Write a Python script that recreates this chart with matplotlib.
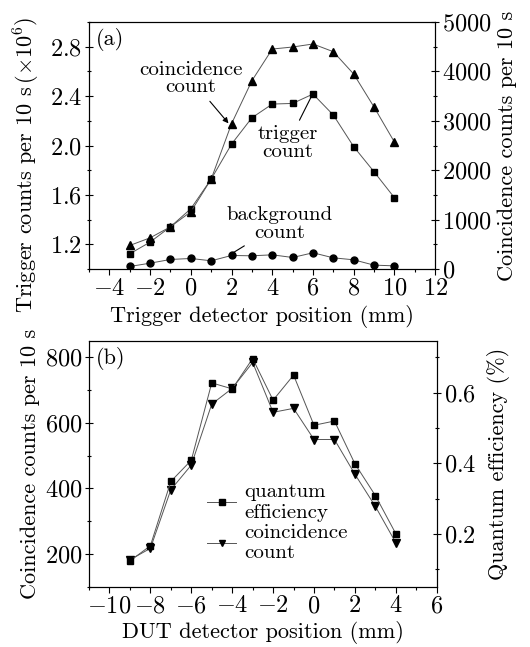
import matplotlib
matplotlib.use('Agg')
import matplotlib.pyplot as plt
from matplotlib.ticker import MultipleLocator

plt.rcParams['font.family'] = ['cmr10', 'DejaVu Serif']
plt.rcParams['mathtext.fontset'] = 'cm'
plt.rcParams['axes.formatter.use_mathtext'] = True
plt.rcParams['axes.unicode_minus'] = True

# (a) trigger detector scan
pos_a = [-3, -2, -1, 0, 1, 2, 3, 4, 5, 6, 7, 8, 9, 10]
trigger = [1.124, 1.219, 1.343, 1.489, 1.729, 2.012, 2.225, 2.336, 2.341, 2.417,
           2.247, 1.991, 1.788, 1.578]
coinc_a = [479, 634, 857, 1161, 1822, 2942, 3812, 4453, 4494, 4555, 4399, 3947,
           3279, 2571]
background = [54, 121, 196, 216, 169, 277, 270, 290, 236, 331, 229, 189, 81, 67]

# (b) DUT detector scan
pos_b = [-9, -8, -7, -6, -5, -4, -3, -2, -1, 0, 1, 2, 3, 4]
qe = [0.124, 0.167, 0.349, 0.409, 0.628, 0.611, 0.697, 0.579, 0.650, 0.508,
      0.520, 0.399, 0.309, 0.201]
coinc_b = [182, 217, 396, 471, 657, 705, 784, 632, 644, 549, 549, 443, 345, 234]

FS = 15      # annotation / legend text
TS = 17.5    # tick labels
LS = 16      # axis labels
lc = '#555555'

fig = plt.figure(figsize=(5.3, 6.47), dpi=100)


def style(ax, twin):
    ax.tick_params(axis='x', which='major', direction='out', length=4, width=0.8,
                   labelsize=TS, pad=2)
    ax.tick_params(axis='x', which='minor', direction='out', length=2.5, width=0.8)
    ax.tick_params(axis='y', which='major', direction='inout', length=6, width=0.8,
                   labelsize=TS, pad=2)
    ax.tick_params(axis='y', which='minor', direction='inout', length=3.5, width=0.8)
    twin.tick_params(axis='y', which='major', direction='inout', length=6, width=0.8,
                     labelsize=TS, pad=2)
    twin.tick_params(axis='y', which='minor', direction='inout', length=3.5, width=0.8)


# ---- panel (a)
ax1 = fig.add_axes([0.168, 0.584, 0.653, 0.382])
ax1r = ax1.twinx()
ax1.plot(pos_a, trigger, '-s', color=lc, lw=0.7, ms=5, mfc='k', mec='k')
ax1r.plot(pos_a, coinc_a, '-^', color=lc, lw=0.7, ms=6, mfc='k', mec='k')
ax1r.plot(pos_a, background, '-o', color=lc, lw=0.7, ms=5, mfc='k', mec='k')
ax1.set_xlim(-5, 12)
ax1.set_ylim(1.0, 3.0)
ax1r.set_ylim(0, 5000)
ax1.xaxis.set_major_locator(MultipleLocator(2))
ax1.xaxis.set_minor_locator(MultipleLocator(1))
ax1.set_yticks([1.2, 1.6, 2.0, 2.4, 2.8])
ax1.yaxis.set_minor_locator(MultipleLocator(0.2))
ax1r.yaxis.set_major_locator(MultipleLocator(1000))
ax1r.yaxis.set_minor_locator(MultipleLocator(500))
style(ax1, ax1r)
ax1.set_xlabel('Trigger detector position (mm)', fontsize=LS, labelpad=4)
ax1.set_ylabel(r'Trigger counts per 10 s$\,(\times10^6)$', fontsize=LS)
ax1.yaxis.set_label_coords(-0.135, 0.42)
ax1r.set_ylabel('Coincidence counts per 10 s', fontsize=LS, labelpad=4)
ax1.text(0.02, 0.975, '(a)', transform=ax1.transAxes, fontsize=16, va='top', ha='left')

ax1.annotate('coincidence\ncount', xy=(1.85, 2.18), xytext=(0.0, 2.54),
             fontsize=FS, ha='center', va='center', linespacing=0.95,
             arrowprops=dict(arrowstyle='-|>', color='k', lw=0.8,
                             mutation_scale=8, shrinkA=2, shrinkB=0))
ax1.annotate('trigger\ncount', xy=(5.9, 2.39), xytext=(4.77, 2.02),
             fontsize=FS, ha='center', va='center', linespacing=0.95,
             arrowprops=dict(arrowstyle='-', color='k', lw=0.8, shrinkA=2, shrinkB=0))
ax1.annotate('background\ncount', xy=(2.05, 1.13), xytext=(4.37, 1.365),
             fontsize=FS, ha='center', va='center', linespacing=0.95,
             arrowprops=dict(arrowstyle='-', color='k', lw=0.8, shrinkA=2, shrinkB=0))

# ---- panel (b)
ax2 = fig.add_axes([0.168, 0.0932, 0.656, 0.380])
ax2r = ax2.twinx()
h1, = ax2r.plot(pos_b, qe, '-s', color=lc, lw=0.7, ms=5, mfc='k', mec='k')
h2, = ax2.plot(pos_b, coinc_b, '-v', color=lc, lw=0.7, ms=6, mfc='k', mec='k')
ax2.set_xlim(-11, 6)
ax2.set_ylim(100, 850)
ax2r.set_ylim(0.051, 0.747)
ax2.xaxis.set_major_locator(MultipleLocator(2))
ax2.xaxis.set_minor_locator(MultipleLocator(1))
ax2.yaxis.set_major_locator(MultipleLocator(200))
ax2.yaxis.set_minor_locator(MultipleLocator(100))
ax2r.set_yticks([0.2, 0.4, 0.6])
ax2r.yaxis.set_minor_locator(MultipleLocator(0.1))
style(ax2, ax2r)
ax2.set_xlabel('DUT detector position (mm)', fontsize=LS, labelpad=3)
ax2.set_ylabel('Coincidence counts per 10 s', fontsize=LS, labelpad=3)
ax2r.set_ylabel('Quantum efficiency (%)', fontsize=LS, labelpad=8)
ax2.text(0.02, 0.975, '(b)', transform=ax2.transAxes, fontsize=16, va='top', ha='left')
ax2.legend([h1, h2], ['quantum\nefficiency', 'coincidence\ncount'],
           loc='upper left', bbox_to_anchor=(0.31, 0.465), frameon=False,
           fontsize=FS, handlelength=1.4, handletextpad=0.4, labelspacing=0.1,
           borderpad=0, markerscale=0.8)

fig.savefig('out.png', dpi=100)
